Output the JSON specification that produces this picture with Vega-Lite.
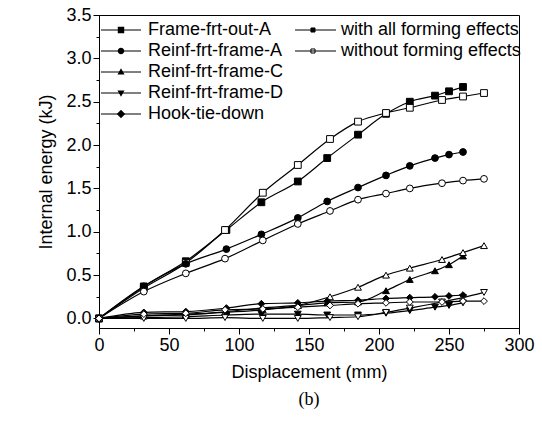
{
  "$schema": "https://vega.github.io/schema/vega-lite/v6.json",
  "width": 420,
  "height": 313,
  "autosize": "none",
  "padding": {"left": 99, "top": 15, "right": 23, "bottom": 93},
  "background": "white",
  "title": {"text": "(b)", "orient": "bottom", "font": "Liberation Serif", "fontSize": 18, "fontWeight": "normal", "color": "black", "offset": 10},
  "config": {
    "view": {"stroke": "black", "strokeWidth": 1},
    "font": "Liberation Sans",
    "axis": {"grid": false, "domainColor": "black", "tickColor": "black", "labelColor": "black", "titleColor": "black", "labelFont": "Liberation Sans", "titleFont": "Liberation Sans", "labelFontSize": 18, "titleFontSize": 18, "titleFontWeight": "normal", "labelFlush": false, "labelOverlap": false, "domainWidth": 1, "tickWidth": 1},
    "legend": {"labelFont": "Liberation Sans", "labelFontSize": 18, "labelColor": "black", "padding": 0, "title": null, "labelLimit": 400}
  },
  "data": {"values": [
    {"c":"Frame-frt-out-A","f":"with all forming effects","x":0,"y":0},
    {"c":"Frame-frt-out-A","f":"with all forming effects","x":32,"y":0.37},
    {"c":"Frame-frt-out-A","f":"with all forming effects","x":62,"y":0.66},
    {"c":"Frame-frt-out-A","f":"with all forming effects","x":91,"y":1.02},
    {"c":"Frame-frt-out-A","f":"with all forming effects","x":116,"y":1.34},
    {"c":"Frame-frt-out-A","f":"with all forming effects","x":142,"y":1.58},
    {"c":"Frame-frt-out-A","f":"with all forming effects","x":163,"y":1.85},
    {"c":"Frame-frt-out-A","f":"with all forming effects","x":185,"y":2.12},
    {"c":"Frame-frt-out-A","f":"with all forming effects","x":205,"y":2.36},
    {"c":"Frame-frt-out-A","f":"with all forming effects","x":222,"y":2.5},
    {"c":"Frame-frt-out-A","f":"with all forming effects","x":240,"y":2.57},
    {"c":"Frame-frt-out-A","f":"with all forming effects","x":250,"y":2.62},
    {"c":"Frame-frt-out-A","f":"with all forming effects","x":260,"y":2.67},
    {"c":"Frame-frt-out-A","f":"without forming effects","x":0,"y":0},
    {"c":"Frame-frt-out-A","f":"without forming effects","x":32,"y":0.35},
    {"c":"Frame-frt-out-A","f":"without forming effects","x":62,"y":0.64},
    {"c":"Frame-frt-out-A","f":"without forming effects","x":90,"y":1.02},
    {"c":"Frame-frt-out-A","f":"without forming effects","x":117,"y":1.45},
    {"c":"Frame-frt-out-A","f":"without forming effects","x":142,"y":1.77},
    {"c":"Frame-frt-out-A","f":"without forming effects","x":165,"y":2.07},
    {"c":"Frame-frt-out-A","f":"without forming effects","x":185,"y":2.27},
    {"c":"Frame-frt-out-A","f":"without forming effects","x":205,"y":2.37},
    {"c":"Frame-frt-out-A","f":"without forming effects","x":222,"y":2.43},
    {"c":"Frame-frt-out-A","f":"without forming effects","x":245,"y":2.52},
    {"c":"Frame-frt-out-A","f":"without forming effects","x":260,"y":2.56},
    {"c":"Frame-frt-out-A","f":"without forming effects","x":275,"y":2.6},
    {"c":"Reinf-frt-frame-A","f":"with all forming effects","x":0,"y":0},
    {"c":"Reinf-frt-frame-A","f":"with all forming effects","x":32,"y":0.37},
    {"c":"Reinf-frt-frame-A","f":"with all forming effects","x":62,"y":0.63},
    {"c":"Reinf-frt-frame-A","f":"with all forming effects","x":91,"y":0.8},
    {"c":"Reinf-frt-frame-A","f":"with all forming effects","x":116,"y":0.97},
    {"c":"Reinf-frt-frame-A","f":"with all forming effects","x":142,"y":1.16},
    {"c":"Reinf-frt-frame-A","f":"with all forming effects","x":163,"y":1.35},
    {"c":"Reinf-frt-frame-A","f":"with all forming effects","x":185,"y":1.51},
    {"c":"Reinf-frt-frame-A","f":"with all forming effects","x":205,"y":1.65},
    {"c":"Reinf-frt-frame-A","f":"with all forming effects","x":222,"y":1.76},
    {"c":"Reinf-frt-frame-A","f":"with all forming effects","x":240,"y":1.85},
    {"c":"Reinf-frt-frame-A","f":"with all forming effects","x":250,"y":1.89},
    {"c":"Reinf-frt-frame-A","f":"with all forming effects","x":260,"y":1.92},
    {"c":"Reinf-frt-frame-A","f":"without forming effects","x":0,"y":0},
    {"c":"Reinf-frt-frame-A","f":"without forming effects","x":32,"y":0.31},
    {"c":"Reinf-frt-frame-A","f":"without forming effects","x":62,"y":0.52},
    {"c":"Reinf-frt-frame-A","f":"without forming effects","x":90,"y":0.69},
    {"c":"Reinf-frt-frame-A","f":"without forming effects","x":117,"y":0.9},
    {"c":"Reinf-frt-frame-A","f":"without forming effects","x":142,"y":1.09},
    {"c":"Reinf-frt-frame-A","f":"without forming effects","x":165,"y":1.24},
    {"c":"Reinf-frt-frame-A","f":"without forming effects","x":185,"y":1.37},
    {"c":"Reinf-frt-frame-A","f":"without forming effects","x":205,"y":1.44},
    {"c":"Reinf-frt-frame-A","f":"without forming effects","x":222,"y":1.5},
    {"c":"Reinf-frt-frame-A","f":"without forming effects","x":245,"y":1.56},
    {"c":"Reinf-frt-frame-A","f":"without forming effects","x":260,"y":1.59},
    {"c":"Reinf-frt-frame-A","f":"without forming effects","x":275,"y":1.61},
    {"c":"Reinf-frt-frame-C","f":"with all forming effects","x":0,"y":0},
    {"c":"Reinf-frt-frame-C","f":"with all forming effects","x":32,"y":0.03},
    {"c":"Reinf-frt-frame-C","f":"with all forming effects","x":62,"y":0.04},
    {"c":"Reinf-frt-frame-C","f":"with all forming effects","x":91,"y":0.08},
    {"c":"Reinf-frt-frame-C","f":"with all forming effects","x":116,"y":0.12},
    {"c":"Reinf-frt-frame-C","f":"with all forming effects","x":142,"y":0.15},
    {"c":"Reinf-frt-frame-C","f":"with all forming effects","x":163,"y":0.18},
    {"c":"Reinf-frt-frame-C","f":"with all forming effects","x":185,"y":0.19},
    {"c":"Reinf-frt-frame-C","f":"with all forming effects","x":205,"y":0.32},
    {"c":"Reinf-frt-frame-C","f":"with all forming effects","x":222,"y":0.45},
    {"c":"Reinf-frt-frame-C","f":"with all forming effects","x":240,"y":0.55},
    {"c":"Reinf-frt-frame-C","f":"with all forming effects","x":250,"y":0.62},
    {"c":"Reinf-frt-frame-C","f":"with all forming effects","x":260,"y":0.72},
    {"c":"Reinf-frt-frame-C","f":"without forming effects","x":0,"y":0},
    {"c":"Reinf-frt-frame-C","f":"without forming effects","x":32,"y":0.03},
    {"c":"Reinf-frt-frame-C","f":"without forming effects","x":62,"y":0.05},
    {"c":"Reinf-frt-frame-C","f":"without forming effects","x":90,"y":0.07},
    {"c":"Reinf-frt-frame-C","f":"without forming effects","x":117,"y":0.1},
    {"c":"Reinf-frt-frame-C","f":"without forming effects","x":142,"y":0.15},
    {"c":"Reinf-frt-frame-C","f":"without forming effects","x":165,"y":0.25},
    {"c":"Reinf-frt-frame-C","f":"without forming effects","x":185,"y":0.36},
    {"c":"Reinf-frt-frame-C","f":"without forming effects","x":205,"y":0.5},
    {"c":"Reinf-frt-frame-C","f":"without forming effects","x":222,"y":0.58},
    {"c":"Reinf-frt-frame-C","f":"without forming effects","x":245,"y":0.68},
    {"c":"Reinf-frt-frame-C","f":"without forming effects","x":260,"y":0.76},
    {"c":"Reinf-frt-frame-C","f":"without forming effects","x":275,"y":0.84},
    {"c":"Reinf-frt-frame-D","f":"with all forming effects","x":0,"y":0},
    {"c":"Reinf-frt-frame-D","f":"with all forming effects","x":32,"y":0.01},
    {"c":"Reinf-frt-frame-D","f":"with all forming effects","x":62,"y":0.02},
    {"c":"Reinf-frt-frame-D","f":"with all forming effects","x":91,"y":0.04},
    {"c":"Reinf-frt-frame-D","f":"with all forming effects","x":116,"y":0.05},
    {"c":"Reinf-frt-frame-D","f":"with all forming effects","x":142,"y":0.05},
    {"c":"Reinf-frt-frame-D","f":"with all forming effects","x":163,"y":0.04},
    {"c":"Reinf-frt-frame-D","f":"with all forming effects","x":185,"y":0.04},
    {"c":"Reinf-frt-frame-D","f":"with all forming effects","x":205,"y":0.06},
    {"c":"Reinf-frt-frame-D","f":"with all forming effects","x":222,"y":0.09},
    {"c":"Reinf-frt-frame-D","f":"with all forming effects","x":240,"y":0.13},
    {"c":"Reinf-frt-frame-D","f":"with all forming effects","x":250,"y":0.15},
    {"c":"Reinf-frt-frame-D","f":"with all forming effects","x":260,"y":0.18},
    {"c":"Reinf-frt-frame-D","f":"without forming effects","x":0,"y":0},
    {"c":"Reinf-frt-frame-D","f":"without forming effects","x":32,"y":0.0},
    {"c":"Reinf-frt-frame-D","f":"without forming effects","x":62,"y":0.0},
    {"c":"Reinf-frt-frame-D","f":"without forming effects","x":90,"y":0.01},
    {"c":"Reinf-frt-frame-D","f":"without forming effects","x":117,"y":0.0},
    {"c":"Reinf-frt-frame-D","f":"without forming effects","x":142,"y":0.0},
    {"c":"Reinf-frt-frame-D","f":"without forming effects","x":165,"y":0.01},
    {"c":"Reinf-frt-frame-D","f":"without forming effects","x":185,"y":0.02},
    {"c":"Reinf-frt-frame-D","f":"without forming effects","x":205,"y":0.07},
    {"c":"Reinf-frt-frame-D","f":"without forming effects","x":222,"y":0.12},
    {"c":"Reinf-frt-frame-D","f":"without forming effects","x":245,"y":0.19},
    {"c":"Reinf-frt-frame-D","f":"without forming effects","x":260,"y":0.24},
    {"c":"Reinf-frt-frame-D","f":"without forming effects","x":275,"y":0.3},
    {"c":"Hook-tie-down","f":"with all forming effects","x":0,"y":0},
    {"c":"Hook-tie-down","f":"with all forming effects","x":32,"y":0.07},
    {"c":"Hook-tie-down","f":"with all forming effects","x":62,"y":0.08},
    {"c":"Hook-tie-down","f":"with all forming effects","x":91,"y":0.12},
    {"c":"Hook-tie-down","f":"with all forming effects","x":116,"y":0.17},
    {"c":"Hook-tie-down","f":"with all forming effects","x":142,"y":0.18},
    {"c":"Hook-tie-down","f":"with all forming effects","x":163,"y":0.2},
    {"c":"Hook-tie-down","f":"with all forming effects","x":185,"y":0.21},
    {"c":"Hook-tie-down","f":"with all forming effects","x":205,"y":0.23},
    {"c":"Hook-tie-down","f":"with all forming effects","x":222,"y":0.24},
    {"c":"Hook-tie-down","f":"with all forming effects","x":240,"y":0.25},
    {"c":"Hook-tie-down","f":"with all forming effects","x":250,"y":0.26},
    {"c":"Hook-tie-down","f":"with all forming effects","x":260,"y":0.27},
    {"c":"Hook-tie-down","f":"without forming effects","x":0,"y":0},
    {"c":"Hook-tie-down","f":"without forming effects","x":32,"y":0.05},
    {"c":"Hook-tie-down","f":"without forming effects","x":62,"y":0.06},
    {"c":"Hook-tie-down","f":"without forming effects","x":90,"y":0.1},
    {"c":"Hook-tie-down","f":"without forming effects","x":117,"y":0.11},
    {"c":"Hook-tie-down","f":"without forming effects","x":142,"y":0.13},
    {"c":"Hook-tie-down","f":"without forming effects","x":165,"y":0.15},
    {"c":"Hook-tie-down","f":"without forming effects","x":185,"y":0.17},
    {"c":"Hook-tie-down","f":"without forming effects","x":205,"y":0.18},
    {"c":"Hook-tie-down","f":"without forming effects","x":222,"y":0.19},
    {"c":"Hook-tie-down","f":"without forming effects","x":245,"y":0.19},
    {"c":"Hook-tie-down","f":"without forming effects","x":260,"y":0.2},
    {"c":"Hook-tie-down","f":"without forming effects","x":275,"y":0.2}
  ]},
  "encoding": {
    "x": {"field": "x", "type": "quantitative", "scale": {"domain": [0, 300], "nice": false, "zero": false},
      "axis": {"title": "Displacement (mm)", "values": [0,25,50,75,100,125,150,175,200,225,250,275,300],
        "labelExpr": "datum.value % 50 == 0 ? datum.label : ''",
        "tickSize": {"condition": {"test": "datum.value % 50 != 0", "value": 3}, "value": 6},
        "labelPadding": 2, "titlePadding": 9}},
    "y": {"field": "y", "type": "quantitative", "scale": {"domain": [-0.11, 3.5], "nice": false, "zero": false},
      "axis": {"title": "Internal energy (kJ)", "values": [0,0.25,0.5,0.75,1,1.25,1.5,1.75,2,2.25,2.5,2.75,3,3.25,3.5],
        "labelExpr": "round(datum.value*4) % 2 == 0 ? format(datum.value, '.1f') : ''",
        "tickSize": {"condition": {"test": "round(datum.value*4) % 2 == 1", "value": 3}, "value": 6},
        "labelPadding": 2, "titlePadding": 10}}
  },
  "layer": [
    {
      "mark": {"type": "line", "interpolate": "monotone", "strokeWidth": 1.2},
      "encoding": {
        "detail": [{"field": "c"}, {"field": "f"}],
        "stroke": {"field": "c", "type": "nominal",
          "scale": {"domain": ["Frame-frt-out-A","Reinf-frt-frame-A","Reinf-frt-frame-C","Reinf-frt-frame-D","Hook-tie-down"],
                    "range": ["black","black","black","black","black"]},
          "legend": {"orient": "none", "legendX": 13, "legendY": 6, "symbolType": "M-2.86,0H2.86", "symbolSize": 196,
            "symbolStrokeWidth": 1, "labelOffset": 18, "rowPadding": 3, "labelOpacity": 0}}
      }
    },
    {
      "mark": {"type": "point", "stroke": "black", "strokeWidth": 1, "opacity": 1, "size": 46},
      "encoding": {
        "shape": {"field": "c", "type": "nominal",
          "scale": {"domain": ["Frame-frt-out-A","Reinf-frt-frame-A","Reinf-frt-frame-C","Reinf-frt-frame-D","Hook-tie-down"],
                    "range": ["square","circle","triangle-up","triangle-down","diamond"]},
          "legend": null},
        "fill": {"field": "f", "type": "nominal",
          "scale": {"domain": ["with all forming effects","without forming effects"], "range": ["black","white"]},
          "legend": {"orient": "none", "legendX": 207.5, "legendY": 6, "symbolType": "M-2.93,0H2.93M-0.65,-0.29H-0.07V0.29H-0.65Z",
            "symbolSize": 196, "symbolStrokeColor": "black", "symbolStrokeWidth": 1, "labelOffset": 16.5, "rowPadding": 3}}
      }
    },
    {
      "transform": [{"filter": "datum.x < 0"}],
      "mark": {"type": "point", "stroke": "black", "strokeWidth": 1, "opacity": 1, "size": 196},
      "encoding": {
        "x": null, "y": null,
        "fill": {"value": "black"},
        "shape": {"field": "c", "type": "nominal",
          "scale": {"domain": ["Frame-frt-out-A","Reinf-frt-frame-A","Reinf-frt-frame-C","Reinf-frt-frame-D","Hook-tie-down"],
                    "range": ["M-2.86,0H2.86M-0.46,-0.46H0.46V0.46H-0.46Z",
                              "M-2.86,0H2.86M0.47,0A0.47,0.47 0 1,1 -0.47,0A0.47,0.47 0 1,1 0.47,0Z",
                              "M-2.86,0H2.86M0,-0.55L0.5,0.35H-0.5Z",
                              "M-2.86,0H2.86M0,0.55L0.5,-0.35H-0.5Z",
                              "M-2.86,0H2.86M0,-0.6L0.6,0L0,0.6L-0.6,0Z"]},
          "legend": {"orient": "none", "legendX": 13, "legendY": 6, "symbolSize": 196, "symbolFillColor": "black",
            "symbolStrokeColor": "black", "symbolStrokeWidth": 1, "labelOffset": 18, "rowPadding": 3}}
      }
    }
  ],
  "resolve": {"scale": {"shape": "independent"}}
}
